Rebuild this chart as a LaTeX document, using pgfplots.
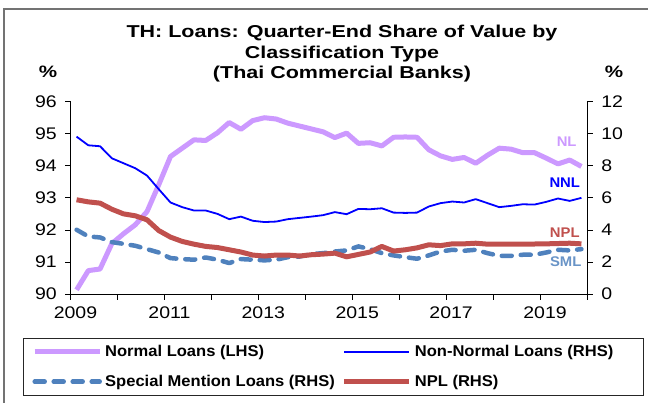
\documentclass[border=0pt]{standalone}
\usepackage{fontspec}
\setmainfont{Liberation Sans}[FakeStretch=1.16]
\newfontfamily\titlefont{Liberation Sans}[FakeStretch=1.25]
\newfontfamily\legfont{Liberation Sans}[FakeStretch=1.06]
\usepackage{pgfplots}
\pgfplotsset{compat=1.18}
\usepackage{pgfplotstable}
\definecolor{nlc}{HTML}{CC99FF}
\definecolor{nnlc}{HTML}{0000FF}
\definecolor{nplc}{HTML}{C0504D}
\definecolor{smlc}{HTML}{4F81BD}

\pgfplotstableread{
x NL NNL SML NPL
2009.125 90.13 9.82 4.01 5.88
2009.375 90.73 9.28 3.59 5.75
2009.625 90.78 9.22 3.53 5.67
2009.875 91.57 8.47 3.24 5.29
2010.125 91.88 8.16 3.13 5.00
2010.375 92.16 7.85 3.01 4.88
2010.625 92.57 7.39 2.80 4.63
2010.875 93.41 6.54 2.59 3.96
2011.125 94.29 5.71 2.24 3.55
2011.375 94.55 5.42 2.18 3.28
2011.625 94.81 5.21 2.14 3.11
2011.875 94.79 5.21 2.28 2.97
2012.125 95.03 5.00 2.14 2.90
2012.375 95.35 4.67 1.93 2.76
2012.625 95.14 4.83 2.18 2.62
2012.875 95.41 4.57 2.14 2.43
2013.125 95.50 4.49 2.10 2.37
2013.375 95.46 4.52 2.14 2.43
2013.625 95.33 4.67 2.30 2.43
2013.875 95.24 4.75 2.34 2.37
2014.125 95.15 4.83 2.49 2.45
2014.375 95.06 4.92 2.55 2.49
2014.625 94.88 5.11 2.65 2.55
2014.875 95.02 4.98 2.72 2.32
2015.125 94.70 5.31 2.97 2.47
2015.375 94.72 5.29 2.80 2.62
2015.625 94.62 5.35 2.55 2.97
2015.875 94.89 5.08 2.41 2.68
2016.125 94.90 5.06 2.30 2.76
2016.375 94.89 5.08 2.20 2.88
2016.625 94.50 5.46 2.41 3.07
2016.875 94.31 5.67 2.65 3.02
2017.125 94.20 5.77 2.76 3.13
2017.375 94.26 5.71 2.70 3.13
2017.625 94.08 5.92 2.76 3.17
2017.875 94.33 5.67 2.55 3.11
2018.125 94.55 5.42 2.38 3.11
2018.375 94.52 5.50 2.38 3.11
2018.625 94.41 5.60 2.45 3.12
2018.875 94.41 5.58 2.45 3.12
2019.125 94.24 5.75 2.59 3.13
2019.375 94.06 5.96 2.76 3.15
2019.625 94.18 5.81 2.72 3.17
2019.875 93.98 6.00 2.80 3.13
}\loans

\pgfplotsset{
  common/.style={
    at={(70.7bp,-294bp)}, anchor=south west,
    scale only axis, width=516.6bp, height=192.3bp,
    xmin=2009, xmax=2020,
    tick align=outside, major tick length=5.5bp,
    tick style={black, line width=0.8bp},
    axis line style={black, line width=0.8bp},
    ticklabel style={font=\fontsize{16.8bp}{20bp}\selectfont},
    /pgf/number format/assume math mode=true,
  }
}

\begin{document}
\begin{tikzpicture}
\useasboundingbox (0,0) rectangle (648bp,-403bp);
\draw[black!55, line width=1.2bp] (4bp,-700bp) -- (4bp,-9bp) -- (800bp,-9bp);
\node[font=\titlefont\bfseries\fontsize{17.2bp}{20bp}\selectfont, anchor=base] at (342bp,-37.5bp) {TH: Loans: Quarter-End Share of Value by};
\node[font=\titlefont\bfseries\fontsize{17.2bp}{20bp}\selectfont, anchor=base] at (342bp,-58bp) {Classification Type};
\node[font=\titlefont\bfseries\fontsize{17.2bp}{20bp}\selectfont, anchor=base] at (342bp,-78.5bp) {(Thai Commercial Banks)};
\node[font=\titlefont\bfseries\fontsize{16.5bp}{20bp}\selectfont, anchor=base] at (48bp,-77bp) {\%};
\node[font=\titlefont\bfseries\fontsize{16.5bp}{20bp}\selectfont, anchor=base] at (614bp,-77bp) {\%};
\draw[black!85, line width=1bp] (23bp,-338bp) rectangle (643bp,-395bp);

\begin{axis}[common,
  ymin=90, ymax=96, ytick={90,...,96},
  axis y line*=left, axis x line*=bottom,
  xtick={2009,...,2020},
  xticklabels={2009,,2011,,2013,,2015,,2017,,2019,},
  xticklabel style={xshift=4.8bp, yshift=-4bp},
  yticklabel style={xshift=-5bp},
]
\addplot[nlc, line width=5bp, line join=round] table[x=x,y=NL]{\loans};
\end{axis}

\begin{axis}[common,
  ymin=0, ymax=12, ytick={0,2,...,12},
  axis y line*=right, axis x line=none,
  yticklabel style={xshift=5bp},
  legend columns=2,
  legend cell align=left,
  legend image code/.code={\draw[#1] (0bp,0bp) -- (65bp,0bp);},
  legend style={at={(axis description cs:-0.0749,-0.2668)}, anchor=north west,
    draw=none, fill=none, inner sep=0pt,
    font=\legfont\bfseries\fontsize{15.6bp}{18bp}\selectfont,
    row sep=17bp, nodes={inner sep=0pt},
    /tikz/every odd column/.append style={column sep=3bp},
    /tikz/every even column/.append style={column sep=7bp}},
]
\addlegendimage{nlc, line width=5bp}
\addlegendentry{Normal Loans (LHS)}
\addplot[nnlc, line width=1.8bp, line join=round] table[x=x,y=NNL]{\loans};
\addlegendentry{Non-Normal Loans (RHS)}
\addplot[smlc, line width=4.5bp, line cap=round, line join=round, dash pattern=on 10bp off 9bp] table[x=x,y=SML]{\loans};
\addlegendentry{Special Mention Loans (RHS)}
\addplot[nplc, line width=5bp, line join=round] table[x=x,y=NPL]{\loans};
\addlegendentry{NPL (RHS)}
\node[text=nlc, font=\legfont\bfseries\fontsize{14bp}{16bp}\selectfont] at (axis cs:2019.56,9.49) {NL};
\node[text=nnlc, font=\legfont\bfseries\fontsize{14bp}{16bp}\selectfont] at (axis cs:2019.52,6.93) {NNL};
\node[text=nplc, font=\legfont\bfseries\fontsize{14bp}{16bp}\selectfont] at (axis cs:2019.52,3.82) {NPL};
\node[text=smlc!85!white, font=\legfont\bfseries\fontsize{14bp}{16bp}\selectfont] at (axis cs:2019.54,2.01) {SML};
\end{axis}
\end{tikzpicture}
\end{document}
